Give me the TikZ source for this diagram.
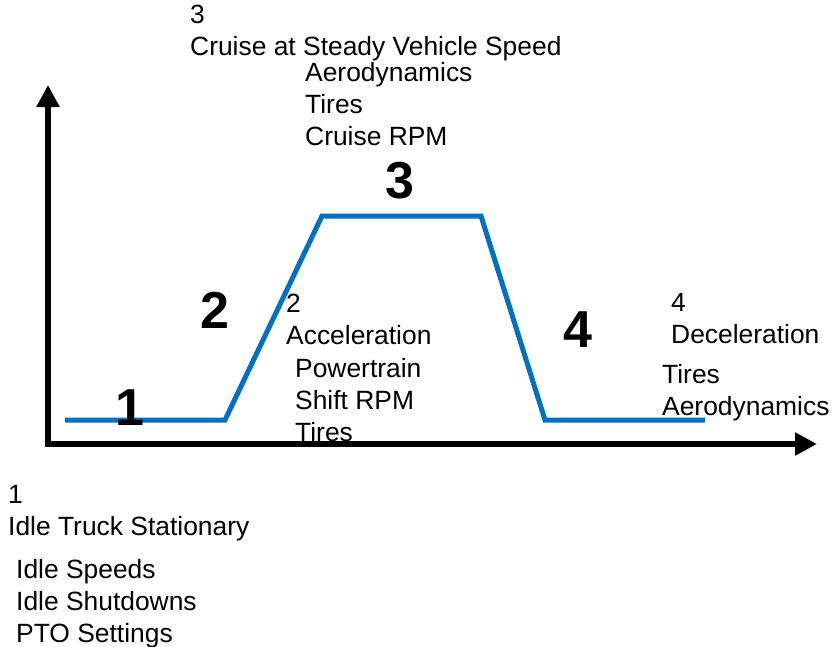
\documentclass[tikz,border=0pt]{standalone}
\usepackage{fontspec}
\setmainfont{Liberation Sans}
\usetikzlibrary{arrows.meta}
\definecolor{cycleblue}{RGB}{0,112,192}

\begin{document}
\begin{tikzpicture}[x=1pt,y=-1pt,
  axis/.style={line width=6pt,-{Triangle[width=22pt,length=22pt]}},
  cycleline/.style={cycleblue,line width=5pt},
  txt/.style={anchor=base west,inner sep=0pt,align=left,font=\fontsize{26.4}{32}\selectfont},
  phase/.style={anchor=base,inner sep=0pt,font=\fontsize{52}{52}\selectfont\bfseries}]
\useasboundingbox (0,0) rectangle (832,646);

% axes
\coordinate (origin) at (48,444);
\draw[axis] (48,447) -- (48,85);
\draw[axis] (45,444) -- (817,444);

% drive cycle
\draw[cycleline] (65,420) -- (225,420) -- (322,216) -- (481,216) -- (545,420) -- (705,420);

% phase numbers
\node[phase] (p1) at (130,425) {1};
\node[phase] (p2) at (215,328) {2};
\node[phase] (p3) at (400,198) {3};
\node[phase] (p4) at (578,347) {4};

% descriptions (anchored at the last line)
\node[txt] (idle) at (8,535) {1\\Idle Truck Stationary};
\node[txt] (idlelist) at (16,642) {Idle Speeds\\Idle Shutdowns\\PTO Settings};
\node[txt] (accel) at (286,344) {2\\Acceleration};
\node[txt] (accellist) at (295,441) {Powertrain\\Shift RPM\\Tires};
\node[txt] (cruise) at (190,55) {3\\Cruise at Steady Vehicle Speed};
\node[txt] (cruiselist) at (305,145) {Aerodynamics\\Tires\\Cruise RPM};
\node[txt] (decel) at (671,343) {4\\Deceleration};
\node[txt] (decellist) at (662,415) {Tires\\Aerodynamics};
\end{tikzpicture}
\end{document}
